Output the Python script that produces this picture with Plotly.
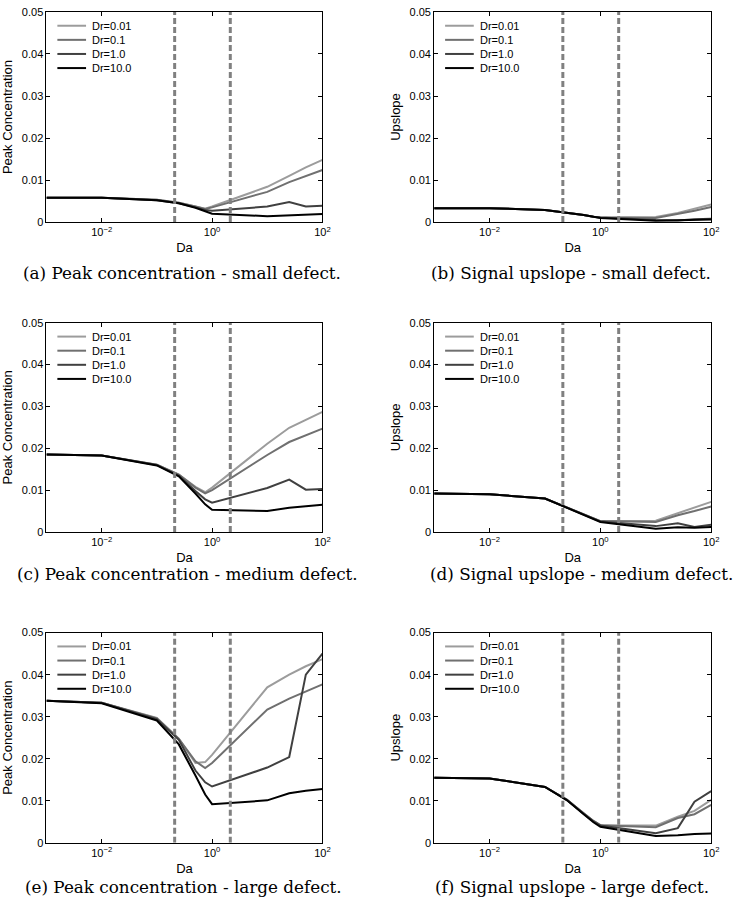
import plotly.graph_objects as go

# Damkohler numbers where the model was evaluated
da = [0.001, 0.01, 0.1, 0.25, 0.5, 0.75, 1, 10, 25, 50, 100]
dr_labels = ["Dr=0.01", "Dr=0.1", "Dr=1.0", "Dr=10.0"]
dr_colors = ["#9c9c9c", "#707070", "#404040", "#000000"]
dash_da = [0.21, 2.14]

# (a) peak concentration, small defect
peak_small_001 = [0.0058, 0.0058, 0.0053, 0.0046, 0.0037, 0.0032, 0.0037, 0.0084, 0.0110, 0.0130, 0.0148]
peak_small_01 = [0.0058, 0.0058, 0.0053, 0.0046, 0.0037, 0.0031, 0.0035, 0.0072, 0.0095, 0.0110, 0.0124]
peak_small_1 = [0.0058, 0.0058, 0.0052, 0.0045, 0.0035, 0.0029, 0.0027, 0.0037, 0.0048, 0.0037, 0.0039]
peak_small_10 = [0.0058, 0.0058, 0.0052, 0.0045, 0.0034, 0.0026, 0.0020, 0.0014, 0.0016, 0.0018, 0.0019]

# (b) upslope, small defect
up_small_001 = [0.0033, 0.0033, 0.0029, 0.0023, 0.0017, 0.0013, 0.0011, 0.0012, 0.0022, 0.0032, 0.0042]
up_small_01 = [0.0033, 0.0033, 0.0029, 0.0023, 0.0017, 0.0013, 0.0011, 0.0010, 0.0019, 0.0027, 0.0036]
up_small_1 = [0.0033, 0.0033, 0.0029, 0.0023, 0.0017, 0.0013, 0.0011, 0.0005, 0.0004, 0.0007, 0.0008]
up_small_10 = [0.0033, 0.0033, 0.0029, 0.0023, 0.0017, 0.0013, 0.0010, 0.0003, 0.0004, 0.0005, 0.0006]

# (c) peak concentration, medium defect
peak_med_001 = [0.0185, 0.0183, 0.0161, 0.0137, 0.0108, 0.0095, 0.0106, 0.0211, 0.0249, 0.0268, 0.0287]
peak_med_01 = [0.0185, 0.0183, 0.0161, 0.0137, 0.0106, 0.0092, 0.0100, 0.0184, 0.0215, 0.0231, 0.0247]
peak_med_1 = [0.0185, 0.0183, 0.0160, 0.0135, 0.0098, 0.0078, 0.0070, 0.0105, 0.0125, 0.0101, 0.0103]
peak_med_10 = [0.0185, 0.0183, 0.0159, 0.0133, 0.0092, 0.0066, 0.0053, 0.0050, 0.0058, 0.0062, 0.0065]

# (d) upslope, medium defect
up_med_001 = [0.0092, 0.0090, 0.0080, 0.0058, 0.0041, 0.0031, 0.0026, 0.0027, 0.0045, 0.0058, 0.0072]
up_med_01 = [0.0092, 0.0090, 0.0080, 0.0058, 0.0041, 0.0031, 0.0026, 0.0024, 0.0040, 0.0050, 0.0061]
up_med_1 = [0.0092, 0.0090, 0.0080, 0.0058, 0.0041, 0.0031, 0.0025, 0.0014, 0.0021, 0.0012, 0.0017]
up_med_10 = [0.0092, 0.0090, 0.0080, 0.0058, 0.0041, 0.0030, 0.0024, 0.0008, 0.0011, 0.0010, 0.0012]

# (e) peak concentration, large defect
peak_large_001 = [0.0338, 0.0333, 0.0297, 0.0248, 0.0190, 0.0192, 0.0209, 0.0370, 0.0400, 0.0420, 0.0437]
peak_large_01 = [0.0338, 0.0333, 0.0296, 0.0247, 0.0194, 0.0178, 0.0190, 0.0317, 0.0343, 0.0360, 0.0377]
peak_large_1 = [0.0338, 0.0333, 0.0294, 0.0245, 0.0172, 0.0144, 0.0134, 0.0179, 0.0204, 0.0400, 0.0450]
peak_large_10 = [0.0338, 0.0332, 0.0291, 0.0234, 0.0160, 0.0115, 0.0092, 0.0101, 0.0118, 0.0124, 0.0128]

# (f) upslope, large defect
up_large_001 = [0.0155, 0.0153, 0.0133, 0.0102, 0.0070, 0.0052, 0.0042, 0.0041, 0.0062, 0.0076, 0.0102]
up_large_01 = [0.0155, 0.0153, 0.0133, 0.0102, 0.0070, 0.0052, 0.0042, 0.0037, 0.0059, 0.0068, 0.0090]
up_large_1 = [0.0155, 0.0153, 0.0133, 0.0102, 0.0069, 0.0051, 0.0041, 0.0023, 0.0035, 0.0098, 0.0123]
up_large_10 = [0.0155, 0.0153, 0.0133, 0.0101, 0.0068, 0.0049, 0.0038, 0.0016, 0.0018, 0.0021, 0.0022]

y_ticks = [0, 0.01, 0.02, 0.03, 0.04, 0.05]
y_ticktext = ["0", "0.01", "0.02", "0.03", "0.04", "0.05"]
x_ticks = [0.01, 1, 100]
x_ticktext = ["10<sup>\u22122</sup>", "10<sup>0</sup>", "10<sup>2</sup>"]

panels = [
    ("Peak Concentration", "(a) Peak concentration - small defect.",
     [peak_small_001, peak_small_01, peak_small_1, peak_small_10]),
    ("Upslope", "(b) Signal upslope - small defect.",
     [up_small_001, up_small_01, up_small_1, up_small_10]),
    ("Peak Concentration", "(c) Peak concentration - medium defect.",
     [peak_med_001, peak_med_01, peak_med_1, peak_med_10]),
    ("Upslope", "(d) Signal upslope - medium defect.",
     [up_med_001, up_med_01, up_med_1, up_med_10]),
    ("Peak Concentration", "(e) Peak concentration - large defect.",
     [peak_large_001, peak_large_01, peak_large_1, peak_large_10]),
    ("Upslope", "(f) Signal upslope - large defect.",
     [up_large_001, up_large_01, up_large_1, up_large_10]),
]

W, H = 734, 910
# pixel boxes of the six plot areas
cols = [(47, 326), (439, 719)]
rows = [(6, 219), (321, 533), (635, 848)]
caption_pos = [(184, 271), (577, 271), (190, 576), (588, 576), (186, 893), (578, 893)]

sans = "Liberation Sans, Arial, Helvetica, sans-serif"
serif = "DejaVu Serif, serif"

fig = go.Figure()
layout = {}
annotations = []
shapes = []

for i, (ytitle, caption, series) in enumerate(panels):
    r, c = divmod(i, 2)
    x0, x1 = cols[c]
    y0, y1 = rows[r]
    sfx = "" if i == 0 else str(i + 1)
    pw, ph = x1 - x0, y1 - y0

    for vals, lab, col in zip(series, dr_labels, dr_colors):
        fig.add_trace(go.Scatter(
            x=da, y=vals, mode="lines", name=lab, showlegend=False,
            line=dict(color=col, width=2),
            xaxis="x" + sfx, yaxis="y" + sfx,
        ))
    for d in dash_da:
        fig.add_trace(go.Scatter(
            x=[d, d], y=[0, 0.05], mode="lines", showlegend=False,
            line=dict(color="#808080", width=3, dash="6px,3px"),
            xaxis="x" + sfx, yaxis="y" + sfx, hoverinfo="skip",
        ))

    # legend box in the upper left corner
    for k, (lab, col) in enumerate(zip(dr_labels, dr_colors)):
        yk = 1 - (14 + 14.3 * k) / ph
        shapes.append(dict(
            type="line", xref="x" + sfx + " domain", yref="y" + sfx + " domain",
            x0=11 / pw, x1=40 / pw, y0=yk, y1=yk,
            line=dict(color=col, width=2),
        ))
        annotations.append(dict(
            text=lab, xref="x" + sfx + " domain", yref="y" + sfx + " domain",
            x=44 / pw, y=yk, xanchor="left", yanchor="middle", showarrow=False,
            font=dict(family=sans, size=11, color="black"),
        ))

    layout["xaxis" + sfx] = dict(
        domain=[x0 / W, x1 / W], anchor="y" + sfx, type="log",
        range=[-3, 2], tickvals=x_ticks, ticktext=x_ticktext,
        ticks="inside", ticklen=4, tickcolor="black",
        showline=True, linecolor="black", linewidth=1, mirror="ticks",
        showgrid=False, zeroline=False,
        tickfont=dict(family=sans, size=11, color="black"),
        title=dict(text="Da", font=dict(family=sans, size=13, color="black"), standoff=5),
    )
    layout["yaxis" + sfx] = dict(
        domain=[1 - y1 / H, 1 - y0 / H], anchor="x" + sfx,
        range=[0, 0.05], tickvals=y_ticks, ticktext=y_ticktext,
        ticks="inside", ticklen=4, tickcolor="black",
        showline=True, linecolor="black", linewidth=1, mirror="ticks",
        showgrid=False, zeroline=False,
        tickfont=dict(family=sans, size=11, color="black"),
        title=dict(text=ytitle, font=dict(family=sans, size=13, color="black"), standoff=6),
    )
    cx, cy = caption_pos[i]
    annotations.append(dict(
        text=caption, x=cx / W, y=1 - cy / H,
        xref="paper", yref="paper", xanchor="center", yanchor="middle",
        showarrow=False, font=dict(family=serif, size=16.8, color="black"),
    ))

fig.update_layout(
    width=W, height=H, margin=dict(l=0, r=0, t=0, b=0),
    paper_bgcolor="white", plot_bgcolor="white", showlegend=False,
    annotations=annotations, shapes=shapes, **layout,
)

# drop the browser's default 8px body margin so the figure fills the window
fig.write_html(
    "out.html",
    config={"displayModeBar": False},
    post_script="document.body.style.margin = '0px';",
)
